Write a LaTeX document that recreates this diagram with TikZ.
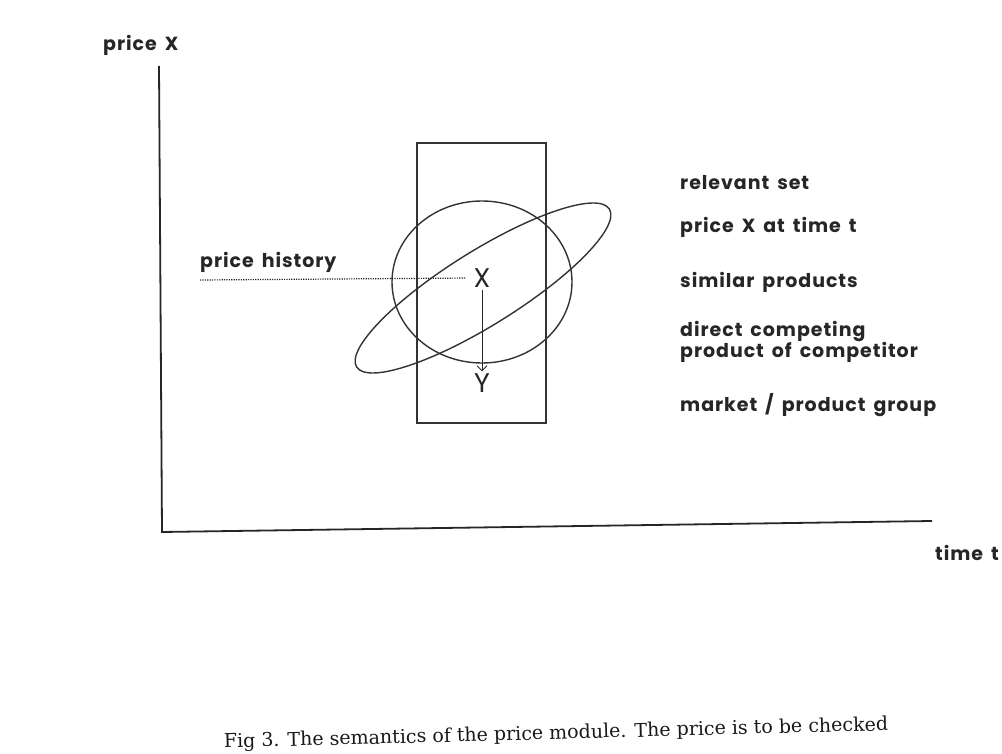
\documentclass[tikz,border=0pt]{standalone}
\usepackage{fontspec}
\usepackage{tikz}
\usetikzlibrary{positioning,arrows.meta,shapes.geometric}
\newfontfamily\lblfont{Poppins}[LetterSpace=5, WordSpace=1.6]
\newfontfamily\varfont{Poppins}
\newfontfamily\capfont{DejaVu Serif}

\begin{document}
\begin{tikzpicture}[x=1pt, y=-1pt, lbl/.style={font=\lblfont\bfseries\fontsize{19}{19}\selectfont, text=black!85, inner sep=0pt, anchor=west}, var/.style={font=\varfont\fontsize{27}{29}\selectfont, text=black!85, inner sep=2pt}, axis/.style={line width=1.8pt, draw=black!85}, outline/.style={draw=black!80, line width=1.4pt, inner sep=0pt}, hist/.style={dash pattern=on 1.2pt off 1.2pt, line width=1.2pt, draw=black!85}]
\useasboundingbox[fill=white] (0,0) rectangle (1002,754);
\coordinate (top) at (159,66);
\coordinate (orig) at (162,532);
\coordinate (tend) at (932,521);
\draw[axis] (top) -- (orig) -- (tend);
\node[lbl] (ylab) at (103,45) {price X};
\node[lbl, anchor=east] (tlab) at (999,553) {time t};
\node[outline, rectangle, minimum width=129pt, minimum height=280pt] (relset) at (481.5,283) {};
\node[outline, ellipse, minimum width=180pt, minimum height=162pt] (simil) at (482,282) {};
\node[outline, ellipse, minimum width=298pt, minimum height=74pt, rotate=32] (compet) at (483,288) {};
\node[var] (X) at (482,278) {X};
\node[var] (Y) at (482,383) {Y};
\draw[-{Straight Barb[length=5pt]}, line width=0.9pt, draw=black!85] (X) -- (Y);
\node[lbl] (phist) at (200,262) {price history};
\coordinate (hstart) at (200,280);
\draw[hist, shorten >=5pt] (hstart) -- (X.west);
\node[lbl] (trel) at (680,183) {relevant set};
\node[lbl, below=44pt of trel.west, anchor=west] (tprice) {price X at time t};
\node[lbl, below=55pt of tprice.west, anchor=west] (tsim) {similar products};
\node[lbl, below=60pt of tsim.west, anchor=west, align=left] (tcomp) {direct competing\\product of competitor};
\node[lbl, below=63pt of tcomp.west, anchor=west] (tmarket) {market / product group};
\node[font=\capfont\fontsize{19}{21}\selectfont, text=black!90, rotate=1.5] (cap) at (556,734) {Fig 3. The semantics of the price module. The price is to be checked};
\end{tikzpicture}
\end{document}
